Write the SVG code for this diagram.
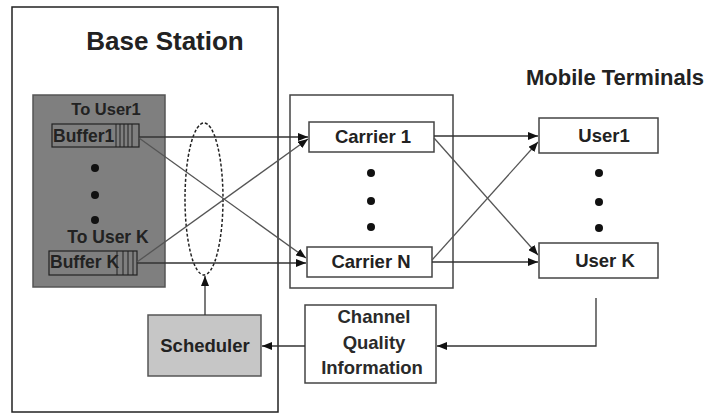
<svg xmlns="http://www.w3.org/2000/svg" width="711" height="414" viewBox="0 0 711 414">
<defs>
<marker id="arr" viewBox="0 0 10 8" refX="10" refY="4" markerWidth="10" markerHeight="8" markerUnits="userSpaceOnUse" orient="auto">
<path d="M0,0 L10,4 L0,8 z" fill="#111"/>
</marker>
<style>
.box{fill:#fff;stroke:#444;stroke-width:1.5}
.t{font-family:"Liberation Sans",Arial,sans-serif;font-weight:bold;fill:#222;text-anchor:middle}
.r{font-family:"Liberation Sans",Arial,sans-serif;font-weight:bold;fill:#2a2a2a;text-anchor:middle;font-size:18.5px}
.c{fill:none;stroke:#333;stroke-width:1.3;marker-end:url(#arr)}
.d{stroke:#555}
.h{stroke:#222;stroke-width:1}
.dot{fill:#111}
</style>
</defs>
<rect width="711" height="414" fill="#fff"/>
<g id="base-station">
<rect x="12" y="7" width="266" height="405" fill="#fff" stroke="#222" stroke-width="1.5"/>
<text class="t" x="165" y="50" font-size="26">Base Station</text>
</g>
<g id="buffers">
<rect x="33" y="95" width="132" height="192" fill="#7f7f7f" stroke="#555" stroke-width="1.5"/>
<text class="t" x="106" y="115" font-size="16.5">To User1</text>
<rect x="52" y="124" width="87" height="23" fill="none" stroke="#222" stroke-width="1.2"/>
<text class="t" x="53" y="142" font-size="17.5" style="text-anchor:start">Buffer1</text>
<line class="h" x1="116" y1="124" x2="116" y2="147"/>
<line class="h" x1="120" y1="124" x2="120" y2="147"/>
<line class="h" x1="124" y1="124" x2="124" y2="147"/>
<line class="h" x1="128" y1="124" x2="128" y2="147"/>
<line class="h" x1="132" y1="124" x2="132" y2="147"/>
<circle class="dot" cx="95" cy="168" r="4"/>
<circle class="dot" cx="95" cy="195" r="4"/>
<circle class="dot" cx="95" cy="220" r="4"/>
<text class="t" x="108" y="243" font-size="17.5">To User K</text>
<rect x="49" y="251" width="88" height="24" fill="none" stroke="#222" stroke-width="1.2"/>
<text class="t" x="50" y="268" font-size="17.5" style="text-anchor:start">Buffer K</text>
<line class="h" x1="117" y1="251" x2="117" y2="275"/>
<line class="h" x1="123" y1="251" x2="123" y2="275"/>
<line class="h" x1="128" y1="251" x2="128" y2="275"/>
<line class="h" x1="133" y1="251" x2="133" y2="275"/>
</g>
<g id="selector">
<ellipse cx="204" cy="199" rx="19" ry="76" fill="none" stroke="#222" stroke-width="1.5" stroke-dasharray="3,2"/>
</g>
<g id="scheduler">
<rect x="148" y="315" width="113" height="61" fill="#c6c6c6" stroke="#555" stroke-width="1.5"/>
<text class="t" x="205" y="352" font-size="18.5">Scheduler</text>
</g>
<g id="carriers">
<rect x="290" y="95" width="163" height="193" fill="none" stroke="#444" stroke-width="1.5"/>
<rect class="box" x="309" y="122" width="125" height="30"/>
<text class="t" x="373" y="143" font-size="18.5">Carrier 1</text>
<circle class="dot" cx="371" cy="173" r="4"/>
<circle class="dot" cx="371" cy="201" r="4"/>
<circle class="dot" cx="371" cy="227" r="4"/>
<rect class="box" x="307" y="247" width="125" height="30"/>
<text class="t" x="371" y="268" font-size="18.5">Carrier N</text>
</g>
<g id="terminals">
<text class="t" x="615" y="85" font-size="22">Mobile Terminals</text>
<rect class="box" x="539" y="118" width="119" height="35"/>
<text class="t" x="604" y="142" font-size="18.5">User1</text>
<circle class="dot" cx="599" cy="173" r="4"/>
<circle class="dot" cx="599" cy="202" r="4"/>
<circle class="dot" cx="599" cy="228" r="4"/>
<rect class="box" x="539" y="243" width="119" height="35"/>
<text class="t" x="605" y="267" font-size="18.5">User K</text>
</g>
<g id="cqi">
<rect class="box" x="305" y="305" width="131" height="78"/>
<text class="r" x="374" y="323">Channel</text>
<text class="r" x="374" y="349">Quality</text>
<text class="r" x="372" y="374">Information</text>
</g>
<g id="connectors">
<path class="c" d="M139,137 L308,137"/>
<path class="c d" d="M139,138 L306,258"/>
<path class="c d" d="M137,262 L308,139"/>
<path class="c" d="M137,263 L306,263"/>
<path class="c" d="M434,136 L538,136"/>
<path class="c d" d="M434,138 L538,255"/>
<path class="c d" d="M432,260 L538,142"/>
<path class="c" d="M432,262 L538,262"/>
<path class="c" d="M205,315 L205,276"/>
<path class="c" d="M305,346 L262,346"/>
<path class="c" d="M596,298 L596,346 L437,346"/>
</g>
</svg>
